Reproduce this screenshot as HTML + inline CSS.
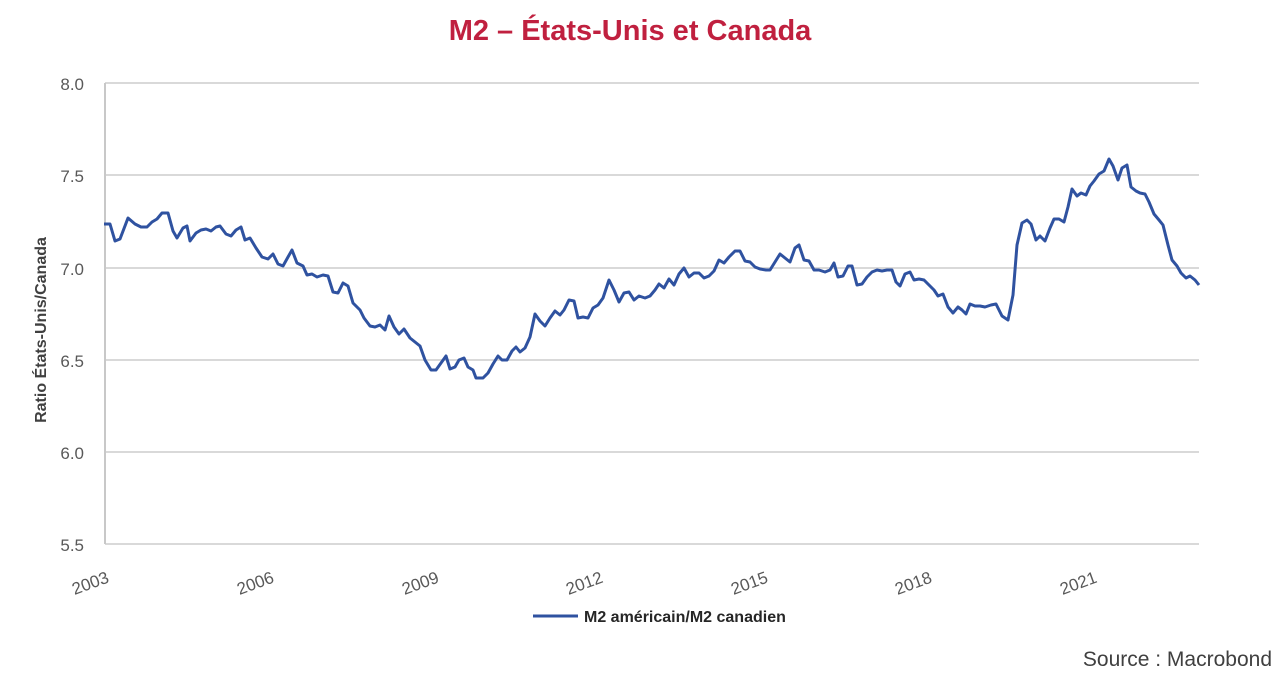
<!DOCTYPE html>
<html><head><meta charset="utf-8"><style>
html,body{margin:0;padding:0;background:#fff;width:1280px;height:674px;overflow:hidden}
svg text{font-family:"Liberation Sans",sans-serif}
</style></head><body>
<svg width="1280" height="674" viewBox="0 0 1280 674">
<text x="630" y="40" text-anchor="middle" font-size="29" font-weight="bold" fill="#c0203f">M2 – États-Unis et Canada</text>
<g stroke="#d9d9d9" stroke-width="2">
<line x1="105" y1="83" x2="1199" y2="83"/>
<line x1="105" y1="175" x2="1199" y2="175"/>
<line x1="105" y1="268" x2="1199" y2="268"/>
<line x1="105" y1="360" x2="1199" y2="360"/>
<line x1="105" y1="452" x2="1199" y2="452"/>
<line x1="105" y1="544" x2="1199" y2="544"/>
<line x1="105" y1="83" x2="105" y2="544" stroke="#c8c8c8"/>
</g>
<g font-size="17" fill="#595959" text-anchor="end">
<text x="84" y="90">8.0</text><text x="84" y="182">7.5</text><text x="84" y="275">7.0</text>
<text x="84" y="367">6.5</text><text x="84" y="459">6.0</text><text x="84" y="551">5.5</text>
</g>
<text transform="translate(46,330) rotate(-90)" text-anchor="middle" font-size="16" font-weight="bold" fill="#404040">Ratio États-Unis/Canada</text>
<g font-size="17" fill="#595959" text-anchor="end">
<text transform="translate(110,582) rotate(-20)">2003</text>
<text transform="translate(275,582) rotate(-20)">2006</text>
<text transform="translate(440,582) rotate(-20)">2009</text>
<text transform="translate(604,582) rotate(-20)">2012</text>
<text transform="translate(769,582) rotate(-20)">2015</text>
<text transform="translate(933,582) rotate(-20)">2018</text>
<text transform="translate(1098,582) rotate(-20)">2021</text>
</g>
<polyline fill="none" stroke="#2f52a0" stroke-width="3" stroke-linejoin="round" points="104,224 110,224 115,241 120,239 128,218 135,224 141,227 147,227 152,222 157,219 162,213 168,213 173,231 177,238 183,228 187,226 190,241 196,233 201,230 206,229 211,231 216,227 220,226 226,234 231,236 236,230 241,227 245,240 250,238 256,248 262,257 268,259 273,254 278,264 283,266 288,257 292,250 297,263 303,266 307,275 312,274 317,277 323,275 328,276 333,292 338,293 343,283 348,286 353,303 360,310 364,318 370,326 375,327 380,325 385,330 389,316 394,327 399,334 404,329 410,338 415,342 420,346 425,360 431,370 436,370 441,363 446,356 450,369 455,367 459,360 464,358 468,367 473,370 476,378 483,378 488,373 493,364 498,356 502,360 507,360 512,351 516,347 520,352 525,348 530,337 535,314 540,321 545,326 550,318 555,311 560,315 564,310 569,300 574,301 578,318 583,317 588,318 593,308 598,305 603,298 609,280 614,290 619,302 624,293 629,292 634,300 639,296 645,298 650,296 655,290 659,284 664,288 669,279 674,285 679,274 684,268 689,277 694,273 699,273 704,278 709,276 714,271 719,260 724,263 729,257 735,251 740,251 745,261 750,262 755,267 760,269 766,270 770,270 775,262 780,254 785,258 790,262 795,248 799,245 804,260 809,261 814,270 819,270 825,272 830,270 834,263 838,277 843,276 848,266 852,266 857,285 862,284 867,277 872,272 877,270 882,271 887,270 892,270 896,282 900,286 905,274 910,272 914,280 919,279 924,280 929,285 934,290 938,296 943,294 948,307 953,313 958,307 962,310 966,314 970,304 975,306 980,306 985,307 991,305 996,304 1002,316 1008,320 1013,295 1017,245 1022,223 1027,220 1031,224 1036,240 1040,236 1045,241 1050,228 1054,219 1059,219 1064,222 1068,207 1072,189 1077,196 1081,193 1086,195 1090,186 1094,181 1099,174 1104,171 1109,159 1113,166 1118,180 1122,168 1127,165 1131,187 1136,191 1140,193 1145,194 1149,202 1154,214 1159,220 1163,225 1168,245 1172,260 1177,266 1181,273 1186,278 1190,276 1195,280 1199,285"/>
<line x1="533" y1="616" x2="578" y2="616" stroke="#2f52a0" stroke-width="3"/>
<text x="584" y="622" font-size="16" font-weight="bold" fill="#262626">M2 américain/M2 canadien</text>
<text x="1272" y="666" text-anchor="end" font-size="21" fill="#404040">Source : Macrobond</text>
</svg>
</body></html>
